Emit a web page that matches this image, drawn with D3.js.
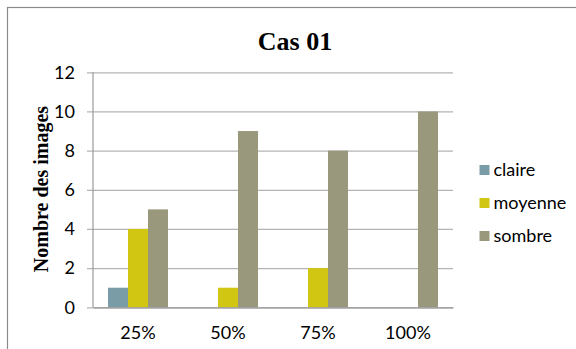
<!DOCTYPE html>
<html>
<head>
<meta charset="utf-8">
<script src="https://cdn.jsdelivr.net/npm/d3@7"></script>
<style>
  html, body { margin: 0; padding: 0; background: #fff; }
  svg { display: block; }
</style>
</head>
<body>
<svg id="chart" width="576" height="349"></svg>
<script>
// Data
const categories = ["25%", "50%", "75%", "100%"];
const seriesNames = ["claire", "moyenne", "sombre"];
const claire  = [1, 0, 0, 0];
const moyenne = [4, 1, 2, 0];
const sombre  = [5, 9, 8, 10];
const yTicks  = [0, 2, 4, 6, 8, 10, 12];
const colors  = ["#7a9ca7", "#d1c712", "#9a987c"];

const values = [claire, moyenne, sombre];
const table = categories.map((c, i) => ({
  cat: c,
  vals: seriesNames.map((s, j) => ({ name: s, v: values[j][i], color: colors[j] }))
}));

const svg = d3.select("#chart");

// Chart frame (runs past the right and bottom edges)
svg.append("rect")
  .attr("x", 7.5).attr("y", 7.5)
  .attr("width", 640).attr("height", 400)
  .attr("fill", "#fff")
  .attr("stroke", "#8a8a8a")
  .attr("stroke-width", 1.2);

const plot = { left: 93, right: 453, top: 72.3, bottom: 307.3 };

const x = d3.scaleBand()
  .domain(categories)
  .range([plot.left, plot.right])
  .paddingInner(0.3333)
  .paddingOuter(0.1667);

const xs = d3.scaleBand()
  .domain(seriesNames)
  .range([0, x.bandwidth()]);

const y = d3.scaleLinear()
  .domain([0, 12])
  .range([plot.bottom, plot.top]);

// Gridlines with outward tick marks
const yAxis = d3.axisLeft(y)
  .tickValues(yTicks)
  .tickSizeInner(-(plot.right - plot.left))
  .tickSizeOuter(0)
  .tickFormat("");

const gGrid = svg.append("g")
  .attr("transform", `translate(${plot.left},0)`)
  .call(yAxis);
gGrid.select(".domain").remove();
gGrid.selectAll(".tick line")
  .attr("x1", -6)
  .attr("stroke", "#b4b4b4")
  .attr("stroke-width", 1.2);

// Tick labels
svg.append("g").selectAll("text")
  .data(yTicks)
  .join("text")
  .attr("x", 75)
  .attr("y", d => y(d))
  .attr("dy", "0.35em")
  .attr("text-anchor", "end")
  .attr("font-family", "Lato, 'Open Sans', sans-serif")
  .attr("font-size", 18)
  .attr("fill", "#000")
  .text(d => d);

// Bars
const groups = svg.append("g").selectAll("g")
  .data(table)
  .join("g")
  .attr("transform", d => `translate(${x(d.cat)},0)`);

groups.selectAll("rect")
  .data(d => d.vals.filter(e => e.v > 0))
  .join("rect")
  .attr("x", d => xs(d.name))
  .attr("width", xs.bandwidth())
  .attr("y", d => y(d.v))
  .attr("height", d => y(0) - y(d.v))
  .attr("fill", d => d.color);

// Value axis line
svg.append("line")
  .attr("x1", plot.left).attr("x2", plot.left)
  .attr("y1", plot.top).attr("y2", plot.bottom)
  .attr("stroke", "#9a9a9a").attr("stroke-width", 1.2);

// Category axis
const xAxis = d3.axisBottom(x).tickSize(0).tickPadding(0);
const gx = svg.append("g")
  .attr("transform", `translate(0,${plot.bottom})`)
  .call(xAxis);
gx.select(".domain")
  .attr("stroke", "#9a9a9a")
  .attr("stroke-width", 1.2);
gx.selectAll(".tick text")
  .attr("y", 32)
  .attr("dy", 0)
  .attr("font-family", "Lato, 'Open Sans', sans-serif")
  .attr("font-size", 18)
  .attr("fill", "#000");

// Title
svg.append("text")
  .attr("x", 295).attr("y", 50)
  .attr("text-anchor", "middle")
  .attr("font-family", "'Liberation Serif', serif")
  .attr("font-weight", "bold")
  .attr("font-size", 26)
  .attr("fill", "#000")
  .text("Cas 01");

// Axis title
svg.append("text")
  .attr("transform", "translate(48,189) rotate(-90)")
  .attr("text-anchor", "middle")
  .attr("font-family", "'Liberation Serif', serif")
  .attr("font-weight", "bold")
  .attr("font-size", 20)
  .attr("fill", "#000")
  .text("Nombre des images");

// Legend
const legend = svg.append("g").selectAll("g")
  .data(seriesNames)
  .join("g")
  .attr("transform", (d, i) => `translate(479.5,${170 + i * 33})`);
legend.append("rect")
  .attr("x", 0).attr("y", -5)
  .attr("width", 10).attr("height", 10)
  .attr("fill", (d, i) => colors[i]);
legend.append("text")
  .attr("x", 14).attr("y", 0)
  .attr("dy", "0.35em")
  .attr("font-family", "Lato, 'Open Sans', sans-serif")
  .attr("font-size", 18)
  .attr("fill", "#000")
  .text(d => d);
</script>
</body>
</html>
